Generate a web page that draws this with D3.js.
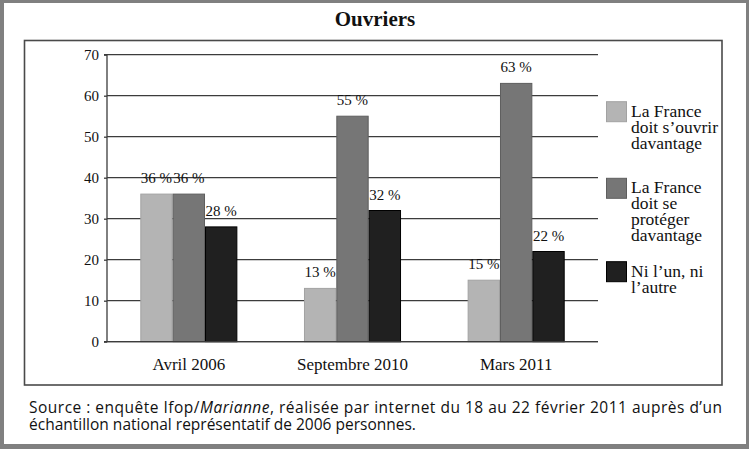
<!DOCTYPE html>
<html>
<head>
<meta charset="utf-8">
<script src="https://cdn.jsdelivr.net/npm/d3@7"></script>
<style>
  html, body { margin: 0; padding: 0; background: #fff; }
  svg { display: block; }
</style>
</head>
<body>
<svg id="chart" width="749" height="449"></svg>
<script>
// ---- Data ----
const title = "Ouvriers";
const categories = ["Avril 2006", "Septembre 2010", "Mars 2011"];
const seriesKeys = ["ouvrir", "proteger", "niLun"];
const ouvrirValues = [36, 13, 15];     // La France doit s'ouvrir davantage
const protegerValues = [36, 55, 63];   // La France doit se protéger davantage
const niLunValues = [28, 32, 22];      // Ni l'un, ni l'autre
const legendLabels = [
  ["La France", "doit s’ouvrir", "davantage"],
  ["La France", "doit se", "protéger", "davantage"],
  ["Ni l’un, ni", "l’autre"]
];
const yTicks = [0, 10, 20, 30, 40, 50, 60, 70];
const sourceLine1 = ["Source : enquête Ifop/", "Marianne", ", réalisée par internet du 18 au 22 février 2011 auprès d’un"];
const sourceLine2 = "échantillon national représentatif de 2006 personnes.";

const seriesValues = { ouvrir: ouvrirValues, proteger: protegerValues, niLun: niLunValues };
const colors = { ouvrir: "#b4b4b4", proteger: "#767676", niLun: "#202020" };
const strokes = { ouvrir: "#a2a2a2", proteger: "#5e5e5e", niLun: "#000000" };

// ---- Layout ----
const svg = d3.select("#chart");
const W = 749, H = 449;
const serif = "'Liberation Serif', 'Times New Roman', serif";

// outer grey frame
svg.append("rect").attr("x", 0).attr("y", 0).attr("width", W).attr("height", H).attr("fill", "#808080");
svg.append("rect").attr("x", 4).attr("y", 3).attr("width", 742).attr("height", 441).attr("fill", "#ffffff");

// title
svg.append("text")
  .attr("x", 375).attr("y", 26)
  .attr("text-anchor", "middle")
  .attr("font-family", serif).attr("font-size", 21).attr("font-weight", "bold")
  .attr("fill", "#111")
  .text(title);

// chart box
svg.append("rect")
  .attr("x", 24.5).attr("y", 40.5).attr("width", 697.5).attr("height", 344.5)
  .attr("fill", "none").attr("stroke", "#4a4a4a").attr("stroke-width", 1.6);

const plotLeft = 107, plotRight = 598, plotTop = 54.7, plotBottom = 341.7;

const y = d3.scaleLinear().domain([0, 70]).range([plotBottom, plotTop]);
const x0 = d3.scaleBand().domain(categories).range([plotLeft, plotRight])
  .paddingInner(0.407).paddingOuter(0.2035);
const x1 = d3.scaleBand().domain(seriesKeys).range([0, x0.bandwidth()]).padding(0);

// gridlines
svg.append("g").selectAll("line").data(yTicks).join("line")
  .attr("x1", plotLeft).attr("x2", plotRight)
  .attr("y1", d => y(d)).attr("y2", d => y(d))
  .attr("stroke", "#3c3c3c").attr("stroke-width", 1.3);

// y axis
const yAxis = d3.axisLeft(y).tickValues(yTicks).tickSize(3).tickPadding(5);
const gy = svg.append("g").attr("transform", `translate(${plotLeft},0)`).call(yAxis);
gy.select(".domain").attr("stroke", "#3c3c3c").attr("stroke-width", 1.3).attr("d", `M-3,${plotTop}H0V${plotBottom}H-3`);
gy.selectAll(".tick line").attr("stroke", "#3c3c3c").attr("stroke-width", 1.3);
gy.selectAll(".tick text").attr("font-family", serif).attr("font-size", 15).attr("fill", "#111");

// bars
const groups = svg.append("g").selectAll("g").data(categories).join("g")
  .attr("transform", d => `translate(${x0(d)},0)`);

groups.each(function (cat, i) {
  const g = d3.select(this);
  seriesKeys.forEach(k => {
    const v = seriesValues[k][i];
    g.append("rect")
      .attr("x", x1(k) + 0.5).attr("y", y(v))
      .attr("width", x1.bandwidth() - 1).attr("height", y(0) - y(v))
      .attr("fill", colors[k]).attr("stroke", strokes[k]).attr("stroke-width", 1);
    g.append("text")
      .attr("x", x1(k) + x1.bandwidth() / 2).attr("y", y(v) - 11)
      .attr("text-anchor", "middle")
      .attr("font-family", serif).attr("font-size", 15).attr("fill", "#111")
      .text(v + " %");
  });
});

// baseline redraw on top
svg.append("line").attr("x1", plotLeft).attr("x2", plotRight)
  .attr("y1", y(0)).attr("y2", y(0)).attr("stroke", "#3c3c3c").attr("stroke-width", 1.3);

// x axis labels
const xAxis = d3.axisBottom(x0).tickSize(0).tickPadding(16);
const gx = svg.append("g").attr("transform", `translate(0,${plotBottom})`).call(xAxis);
gx.select(".domain").remove();
gx.selectAll(".tick text").attr("font-family", serif).attr("font-size", 17).attr("fill", "#111");

// legend
const legendTops = [101.7, 178.3, 261.7];
seriesKeys.forEach((k, i) => {
  const top = legendTops[i];
  svg.append("rect")
    .attr("x", 606.5).attr("y", top).attr("width", 20).attr("height", 20)
    .attr("fill", colors[k]).attr("stroke", strokes[k]).attr("stroke-width", 1);
  const t = svg.append("text")
    .attr("font-family", serif).attr("font-size", 17.5).attr("fill", "#111");
  legendLabels[i].forEach((line, j) => {
    t.append("tspan").attr("x", 631).attr("y", top + 15 + j * 16).text(line);
  });
});

// source
const sans = "'Open Sans', 'DejaVu Sans', sans-serif";
const s1 = svg.append("text")
  .attr("x", 29).attr("y", 412.5)
  .attr("font-family", sans).attr("font-size", 15.5).attr("fill", "#111")
  .attr("textLength", 693).attr("lengthAdjust", "spacing");
s1.append("tspan").text(sourceLine1[0]);
s1.append("tspan").attr("font-style", "italic").text(sourceLine1[1]);
s1.append("tspan").text(sourceLine1[2]);
svg.append("text")
  .attr("x", 29).attr("y", 430)
  .attr("font-family", sans).attr("font-size", 15.5).attr("fill", "#111")
  .text(sourceLine2);
</script>
</body>
</html>
